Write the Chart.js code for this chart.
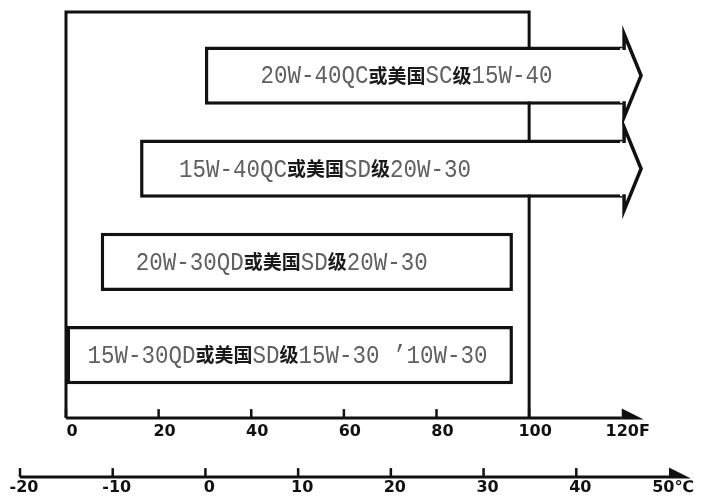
<!DOCTYPE html>
<html>
<head>
<meta charset="utf-8">
<script src="https://cdn.jsdelivr.net/npm/chart.js@4.4.1/dist/chart.umd.min.js"></script>
<style>
  html, body { margin: 0; padding: 0; background: #fff; }
  #wrap { width: 702px; height: 500px; }
</style>
</head>
<body>
<div id="wrap"><canvas id="oilChart"></canvas></div>
<script>
// 机油等级与适用气温范围（华氏 / 摄氏）
const grades = [
  '20W-40QC或美国SC级15W-40',
  '15W-40QC或美国SD级20W-30',
  '20W-30QD或美国SD级20W-30',
  '15W-30QD或美国SD级15W-30 ’10W-30'
];
const tempFrom = [30, 16, 7.5, 0];       // °F
const tempTo = [120.5, 120.5, 96.5, 96.5]; // °F
const openEnded = [true, true, false, false];

const fTicks = [0, 20, 40, 60, 80, 100, 120];
const cTicks = [-20, -10, 0, 10, 20, 30, 40, 50];

// de twee assen lopen in het origineel niet exact gelijk
const fMin = -9.93, fMax = 130.2;
const cMin = -20, cMax = 50;

const labelShift = [55.5, 39, 35, 21];
const CJK = /[\u3400-\u9fff]/;

function splitRuns(text) {
  const runs = [];
  for (const ch of text) {
    const cjk = CJK.test(ch);
    const last = runs[runs.length - 1];
    if (last && last.cjk === cjk) last.text += ch;
    else runs.push({ text: ch, cjk });
  }
  return runs;
}

const drawingPlugin = {
  id: 'drawing',
  beforeDatasetsDraw(chart) {
    const { ctx, chartArea } = chart;
    const fs = chart.scales.x;
    const cs = chart.scales.xc;
    const yF = fs.top + 16.5;
    const yC = cs.top + 23.5;
    ctx.save();
    ctx.strokeStyle = '#111';
    ctx.fillStyle = '#111';
    ctx.lineCap = 'butt';

    // kader 0..100 °F
    ctx.lineWidth = 3;
    const x0 = fs.getPixelForValue(0);
    const x100 = fs.getPixelForValue(100);
    const yTop = chartArea.top - 17;
    ctx.beginPath();
    ctx.moveTo(x0, yF);
    ctx.lineTo(x0, yTop);
    ctx.lineTo(x100, yTop);
    ctx.lineTo(x100, yF);
    ctx.stroke();

    // assen met pijl
    [[fs, fTicks, yF], [cs, cTicks, yC]].forEach(([scale, ticks, y]) => {
      const xs = scale.getPixelForValue(ticks[0]);
      const xe = scale.getPixelForValue(ticks[ticks.length - 1]);
      ctx.lineWidth = 3;
      ctx.beginPath();
      ctx.moveTo(xs, y);
      ctx.lineTo(xe, y);
      ctx.stroke();
      ctx.beginPath();
      ctx.moveTo(xe, y - 9.5);
      ctx.lineTo(xe + 22, y + 1.5);
      ctx.lineTo(xe, y + 1.5);
      ctx.closePath();
      ctx.fill();
      ctx.lineWidth = 2.5;
      ticks.slice(0, -1).forEach(v => {
        const x = scale.getPixelForValue(v);
        ctx.beginPath();
        ctx.moveTo(x, y);
        ctx.lineTo(x, y - 9);
        ctx.stroke();
      });
    });
    ctx.restore();
  },
  afterDatasetsDraw(chart) {
    const { ctx } = chart;
    const meta = chart.getDatasetMeta(0);
    meta.data.forEach((bar, i) => {
      const h = bar.height;
      const top = bar.y - h / 2;
      const bottom = bar.y + h / 2;
      const xEnd = Math.max(bar.x, bar.base);
      const xStart = Math.min(bar.x, bar.base);
      ctx.save();
      if (openEnded[i]) {
        ctx.fillStyle = '#fff';
        ctx.fillRect(xEnd - 4, top + 1.8, 6, h - 3.6);
        ctx.beginPath();
        ctx.moveTo(xEnd - 1.75, top + 1.75);
        ctx.lineTo(xEnd, top - 12.5);
        ctx.lineTo(xEnd + 17, bar.y);
        ctx.lineTo(xEnd, bottom + 12.5);
        ctx.lineTo(xEnd - 1.75, bottom - 1.75);
        ctx.closePath();
        ctx.fill();
        ctx.strokeStyle = '#111';
        ctx.lineWidth = 3.5;
        ctx.lineJoin = 'miter';
        ctx.beginPath();
        ctx.moveTo(xEnd - 1.75, top + 1.75);
        ctx.lineTo(xEnd, top + 1.75);
        ctx.lineTo(xEnd, top - 12.5);
        ctx.lineTo(xEnd + 17, bar.y);
        ctx.lineTo(xEnd, bottom + 12.5);
        ctx.lineTo(xEnd, bottom - 1.75);
        ctx.lineTo(xEnd - 1.75, bottom - 1.75);
        ctx.stroke();
      }

      // label in de balk
      let x = xStart + labelShift[i];
      ctx.textBaseline = 'middle';
      ctx.textAlign = 'left';
      splitRuns(chart.data.labels[i]).forEach(run => {
        if (run.cjk) {
          ctx.font = 'bold 19px "Noto Sans CJK SC"';
          ctx.fillStyle = '#1a1a1a';
          ctx.fillText(run.text, x, bar.y);
          x += ctx.measureText(run.text).width;
        } else {
          const sx = 0.865;
          ctx.font = '26px "Liberation Mono"';
          ctx.fillStyle = '#606060';
          ctx.save();
          ctx.translate(x, bar.y + 1);
          ctx.scale(sx, 1);
          ctx.fillText(run.text, 0, 0);
          ctx.restore();
          x += ctx.measureText(run.text).width * sx;
        }
      });
      ctx.restore();
    });
  }
};

const tickFont = { family: '"DejaVu Sans"', size: 16, weight: 'bold' };
const hiddenGrid = len => ({
  display: true,
  color: 'rgba(0,0,0,0)',
  drawOnChartArea: false,
  drawTicks: true,
  tickLength: len
});

new Chart(document.getElementById('oilChart'), {
  type: 'bar',
  data: {
    labels: grades,
    datasets: [{
      data: tempFrom.map((v, i) => [v, tempTo[i]]),
      backgroundColor: '#fff',
      borderColor: '#111',
      borderWidth: 3.5,
      borderSkipped: false,
      barPercentage: 0.625,
      categoryPercentage: 1
    }]
  },
  options: {
    indexAxis: 'y',
    responsive: true,
    maintainAspectRatio: false,
    animation: false,
    layout: { padding: { left: 20, right: 33, top: 29, bottom: 0 } },
    plugins: { legend: { display: false }, tooltip: { enabled: false } },
    scales: {
      y: { display: false },
      x: {
        type: 'linear',
        position: 'bottom',
        min: fMin,
        max: fMax,
        grid: hiddenGrid(21),
        border: { display: false },
        afterBuildTicks: s => { s.ticks = fTicks.map(v => ({ value: v })); },
        afterFit: s => { s.height = 52; },
        ticks: {
          font: tickFont,
          color: '#111',
          padding: 0,
          labelOffset: 6,
          maxRotation: 0,
          autoSkip: false,
          callback: v => (v === 120 ? '120F' : String(v))
        }
      },
      xc: {
        axis: 'x',
        type: 'linear',
        position: 'bottom',
        min: cMin,
        max: cMax,
        grid: hiddenGrid(25),
        border: { display: false },
        afterBuildTicks: s => { s.ticks = cTicks.map(v => ({ value: v })); },
        afterFit: s => { s.height = 46.4; },
        ticks: {
          font: tickFont,
          color: '#111',
          padding: 0,
          labelOffset: 4,
          maxRotation: 0,
          autoSkip: false,
          callback: v => (v === 50 ? '50℃' : String(v))
        }
      }
    }
  },
  plugins: [drawingPlugin]
});
</script>
</body>
</html>
